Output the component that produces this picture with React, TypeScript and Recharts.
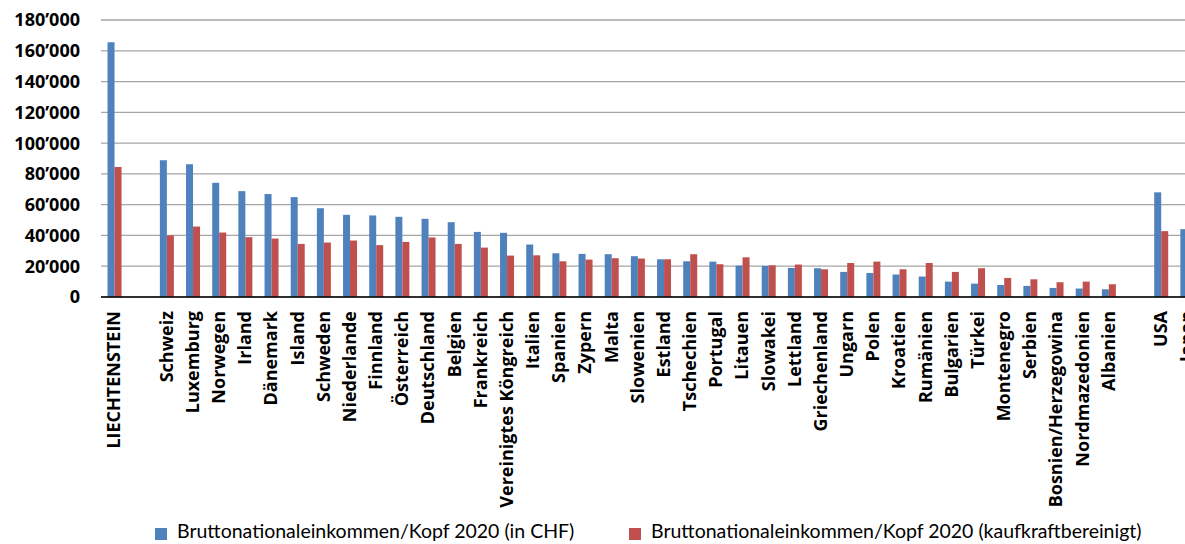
import { Bar, BarChart, CartesianGrid, Legend, XAxis, YAxis } from "recharts";

// leere Einträge = Lücken zwischen den Gruppen
const countries = [
  "LIECHTENSTEIN", "",
  "Schweiz", "Luxemburg", "Norwegen", "Irland", "Dänemark", "Island", "Schweden",
  "Niederlande", "Finnland", "Österreich", "Deutschland", "Belgien", "Frankreich",
  "Vereinigtes Köngreich", "Italien", "Spanien", "Zypern", "Malta", "Slowenien",
  "Estland", "Tschechien", "Portugal", "Litauen", "Slowakei", "Lettland",
  "Griechenland", "Ungarn", "Polen", "Kroatien", "Rumänien", "Bulgarien", "Türkei",
  "Montenegro", "Serbien", "Bosnien/Herzegowina", "Nordmazedonien", "Albanien", "",
  "USA", "Japan",
];

const chfValues = [
  165600, null,
  88800, 86200, 74200, 68800, 66900, 64900, 57700, 53400, 53000, 52100,
  50800, 48600, 42300, 41700, 34100, 28400, 28000, 27800, 26500, 24500,
  23200, 23000, 20400, 20200, 18900, 18700, 16300, 15600, 14600, 13300,
  10000, 8700, 7800, 7200, 5900, 5500, 5000, null,
  68000, 44100,
];

const pppValues = [
  84400, null,
  40000, 45800, 41900, 38900, 38000, 34500, 35400, 36700, 33700, 35800,
  38700, 34500, 32100, 26900, 27100, 23200, 24300, 25200, 25000, 24500,
  27800, 21300, 25800, 20600, 21100, 18000, 22100, 23000, 18000, 22100,
  16300, 18700, 12400, 11500, 9600, 10000, 8300, null,
  42800, 39000,
];

const yTicks = [0, 20000, 40000, 60000, 80000, 100000, 120000, 140000, 160000, 180000];

const seriesNames = [
  "Bruttonationaleinkommen/Kopf 2020 (in CHF)",
  "Bruttonationaleinkommen/Kopf 2020 (kaufkraftbereinigt)",
];

const BLUE = "#4F81BD";
const RED = "#C0504D";

const rows = countries.map((name, i) => ({
  name,
  chf: chfValues[i],
  ppp: pppValues[i],
}));

const formatTick = (v: number) => {
  if (v === 0) return "0";
  const s = String(v);
  return `${s.slice(0, -3)}\u2019${s.slice(-3)}`;
};

const CountryTick = (props: any) => {
  const { x, y, payload } = props;
  if (!payload.value) return null;
  return (
    <text
      x={x}
      y={y}
      dy="0.35em"
      textAnchor="end"
      transform={`rotate(-90, ${x}, ${y})`}
      fontFamily="'Open Sans'"
      fontWeight="bold"
      fontSize={18}
      fill="#000"
    >
      {payload.value}
    </text>
  );
};

const legendItems = [
  { label: seriesNames[0], color: BLUE, left: 155 },
  { label: seriesNames[1], color: RED, left: 629 },
];

const renderLegend = () => (
  <div style={{ position: "relative", height: 30, fontFamily: "Lato", fontSize: 19.5, color: "#000" }}>
    {legendItems.map((item) => (
      <div key={item.label}>
        <div
          style={{
            position: "absolute",
            left: item.left,
            top: 14,
            width: 12,
            height: 12,
            background: item.color,
          }}
        />
        <div
          style={{
            position: "absolute",
            left: item.left + 22,
            top: 5,
            whiteSpace: "nowrap",
            lineHeight: "24px",
          }}
        >
          {item.label}
        </div>
      </div>
    ))}
  </div>
);

export default function App() {
  return (
    <div
      style={{
        position: "absolute",
        left: 0,
        top: 0,
        width: 1185,
        height: 544,
        overflow: "hidden",
        background: "#fff",
      }}
    >
      <BarChart
        width={1215}
        height={544}
        data={rows}
        margin={{ top: 20, right: 15, bottom: 0, left: 0 }}
        barCategoryGap="25%"
        barGap={0}
      >
        <CartesianGrid vertical={false} stroke="#A6A6A6" strokeWidth={1.3} />
        <XAxis
          dataKey="name"
          interval={0}
          height={217}
          tickLine={false}
          tickSize={0}
          tickMargin={14}
          tick={<CountryTick />}
          axisLine={{ stroke: "#000", strokeWidth: 1.5 }}
        />
        <YAxis
          width={101}
          domain={[0, 180000]}
          ticks={yTicks}
          tickFormatter={formatTick}
          axisLine={false}
          tickLine={false}
          tickSize={0}
          tickMargin={21}
          tick={{ fill: "#000", fontFamily: "'Open Sans'", fontWeight: "bold", fontSize: 18 }}
        />
        <Legend
          verticalAlign="bottom"
          height={30}
          content={renderLegend}
          wrapperStyle={{ left: 0, width: 1215, bottom: 0 }}
        />
        <Bar dataKey="chf" name={seriesNames[0]} fill={BLUE} isAnimationActive={false} />
        <Bar dataKey="ppp" name={seriesNames[1]} fill={RED} isAnimationActive={false} />
      </BarChart>
    </div>
  );
}
